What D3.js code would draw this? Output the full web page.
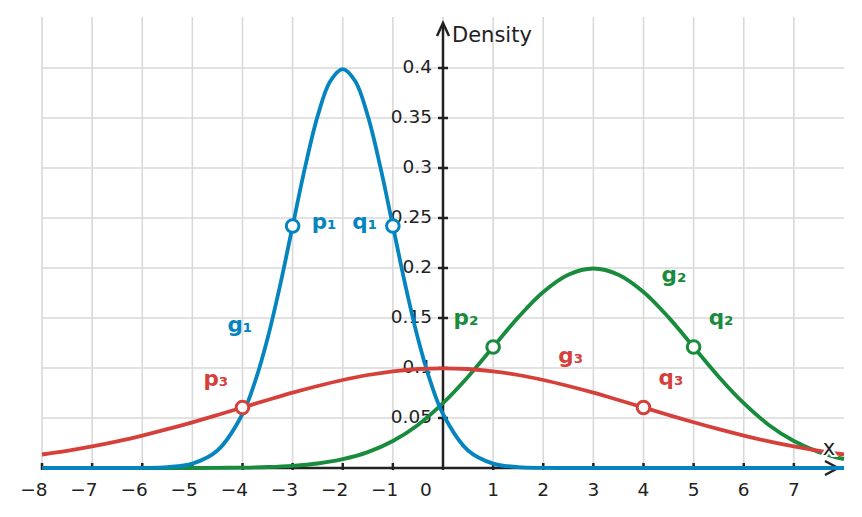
<!DOCTYPE html>
<html>
<head>
<meta charset="UTF-8">
<title>Normal densities</title>
<script src="https://cdn.jsdelivr.net/npm/d3@7"></script>
<style>
* { margin: 0; padding: 0; }
body { background: #fff; }
#chart { display: block; }
</style>
</head>
<body>
<svg id="chart"></svg>
<script>
// sample points along x
const xs = [-8, -7.5, -7, -6.5, -6, -5.5, -5, -4.5, -4, -3.5, -3, -2.5, -2, -1.5, -1, -0.5,
            0, 0.5, 1, 1.5, 2, 2.5, 3, 3.5, 4, 4.5, 5, 5.5, 6, 6.5, 7, 7.5, 8];
// g1 is narrow, so it gets a finer grid round its peak
const xs1 = [-8, -7.5, -7, -6.5, -6, -5.5, -5, -4.5, -4, -3.75, -3.5, -3.25, -3, -2.75, -2.5, -2.25,
             -2, -1.75, -1.5, -1.25, -1, -0.75, -0.5, -0.25, 0, 0.5, 1, 1.5, 2, 2.5, 3, 3.5, 4, 4.5,
             5, 5.5, 6, 6.5, 7, 7.5, 8];

// density values of each curve
const g1 = [0, 0, 0, 0, 0.0001, 0.0009, 0.0044, 0.0175, 0.0540, 0.0863, 0.1295, 0.1826, 0.2420,
            0.3011, 0.3521, 0.3867, 0.3989, 0.3867, 0.3521, 0.3011, 0.2420, 0.1826, 0.1295, 0.0863,
            0.0540, 0.0175, 0.0044, 0.0009, 0.0001, 0, 0, 0, 0, 0, 0, 0, 0, 0, 0, 0, 0];
const g2 = [0, 0, 0, 0, 0, 0, 0, 0.0002, 0.0004, 0.0010, 0.0022, 0.0045, 0.0088, 0.0159, 0.0270, 0.0431,
            0.0648, 0.0913, 0.1210, 0.1506, 0.1760, 0.1933, 0.1995, 0.1933, 0.1760, 0.1506, 0.1210,
            0.0913, 0.0648, 0.0431, 0.0270, 0.0159, 0.0088];
const g3 = [0.0135, 0.0172, 0.0216, 0.0266, 0.0324, 0.0388, 0.0457, 0.0530, 0.0605, 0.0680, 0.0753,
            0.0820, 0.0880, 0.0930, 0.0967, 0.0990, 0.0997, 0.0990, 0.0967, 0.0930, 0.0880, 0.0820,
            0.0753, 0.0680, 0.0605, 0.0530, 0.0457, 0.0388, 0.0324, 0.0266, 0.0216, 0.0172, 0.0135];

// marked points (inflection points)
const pointNames = ["p1", "q1", "p2", "q2", "p3", "q3"];
const pointX = [-3, -1, 1, 5, -4, 4];
const pointY = [0.2420, 0.2420, 0.1210, 0.1210, 0.0605, 0.0605];
const pointCurve = [0, 0, 1, 1, 2, 2];

// ticks
const xTicks = [-8, -7, -6, -5, -4, -3, -2, -1, 0, 1, 2, 3, 4, 5, 6, 7];
const yTicks = [0.05, 0.1, 0.15, 0.2, 0.25, 0.3, 0.35, 0.4];
const xTickLabels = ["−8", "−7", "−6", "−5", "−4", "−3", "−2", "−1", "0", "1", "2", "3", "4", "5", "6", "7"];
const yTickLabels = ["0.05", "0.1", "0.15", "0.2", "0.25", "0.3", "0.35", "0.4"];

const colors = ["#0585bf", "#188b3c", "#d5403a"];

// text annotations: text, curve index, anchor in data units
const notes = [
  { t: "p₁", c: 0, x: -2.62, y: 0.239 },
  { t: "q₁", c: 0, x: -1.81, y: 0.239 },
  { t: "g₁", c: 0, x: -4.30, y: 0.136 },
  { t: "p₂", c: 1, x: 0.21, y: 0.143 },
  { t: "g₂", c: 1, x: 4.36, y: 0.186 },
  { t: "q₂", c: 1, x: 5.30, y: 0.143 },
  { t: "p₃", c: 2, x: -4.78, y: 0.082 },
  { t: "g₃", c: 2, x: 2.30, y: 0.105 },
  { t: "q₃", c: 2, x: 4.30, y: 0.083 }
];

const W = 862, H = 517;
const svg = d3.select("#chart").attr("width", W).attr("height", H);

const x = d3.scaleLinear().domain([-8, 8]).range([42, 844]);
const y = d3.scaleLinear().domain([0, 0.4]).range([468, 68]);
const font = "DejaVu Sans, sans-serif";
const ink = "#222";

// grid
const grid = svg.append("g").attr("stroke", "#d9d9d9").attr("stroke-width", 1.6);
grid.selectAll(".vg").data(xTicks).enter().append("line")
  .attr("x1", d => x(d)).attr("x2", d => x(d))
  .attr("y1", y(0)).attr("y2", 17);
grid.selectAll(".hg").data(yTicks).enter().append("line")
  .attr("x1", x(-8)).attr("x2", x(8))
  .attr("y1", d => y(d)).attr("y2", d => y(d));

// tick labels
svg.append("g").selectAll("text").data(yTicks).enter().append("text")
  .attr("x", x(0) - 11).attr("y", d => y(d) + 5)
  .attr("text-anchor", "end")
  .style("font-family", font).style("font-size", "18.5px").style("fill", ink)
  .text((d, i) => yTickLabels[i]);

svg.append("g").selectAll("text").data(xTicks).enter().append("text")
  .attr("x", d => d < 0 ? x(d) + 5.5 : (d === 0 ? x(d) - 23 : x(d)))
  .attr("y", 496)
  .attr("text-anchor", d => d < 0 ? "end" : (d === 0 ? "start" : "middle"))
  .style("font-family", font).style("font-size", "18.5px").style("fill", ink)
  .text((d, i) => xTickLabels[i]);

// axes
const axes = svg.append("g").attr("stroke", ink).attr("stroke-width", 2.5).attr("fill", "none");
axes.append("line").attr("x1", x(-8)).attr("x2", 837).attr("y1", y(0)).attr("y2", y(0));
axes.append("line").attr("x1", x(0)).attr("x2", x(0)).attr("y1", y(0) + 2).attr("y2", 24);
axes.append("path").attr("d", `M${825},${y(0) - 7}L${838},${y(0)}L${825},${y(0) + 7}`);
axes.append("path").attr("d", `M${x(0) - 6},${36}L${x(0)},${23}L${x(0) + 6},${36}`);
axes.selectAll(".xt").data(xTicks.filter(d => d !== 0)).enter().append("line")
  .attr("x1", d => x(d)).attr("x2", d => x(d))
  .attr("y1", y(0) - 5).attr("y2", y(0) + 2);
axes.selectAll(".yt").data(yTicks).enter().append("line")
  .attr("x1", x(0) - 5).attr("x2", x(0) + 5)
  .attr("y1", d => y(d)).attr("y2", d => y(d));

svg.append("text").attr("x", 452).attr("y", 42)
  .style("font-family", font).style("font-size", "21px").style("fill", ink)
  .text("Density");

// curves
const line = d3.line().y(d => y(d)).curve(d3.curveCatmullRom.alpha(0.5));
const curves = [
  { vals: g2, xv: xs, c: 1 },
  { vals: g1, xv: xs1, c: 0 },
  { vals: g3, xv: xs, c: 2 }
];
curves.forEach(cv => {
  svg.append("path").datum(cv.vals)
    .attr("d", line.x((d, i) => x(cv.xv[i])))
    .attr("fill", "none")
    .attr("stroke", colors[cv.c])
    .attr("stroke-width", 3.8)
    .attr("stroke-linejoin", "round");
});

svg.append("text").attr("x", 829).attr("y", 455)
  .attr("text-anchor", "middle")
  .style("font-family", font).style("font-size", "21px").style("fill", ink)
  .style("stroke", "#fff").style("stroke-width", 4).style("paint-order", "stroke")
  .text("x");

// marked points
svg.append("g").selectAll("circle").data(pointNames).enter().append("circle")
  .attr("cx", (d, i) => x(pointX[i]))
  .attr("cy", (d, i) => y(pointY[i]))
  .attr("r", 6.3)
  .attr("fill", "#fff")
  .attr("stroke", (d, i) => colors[pointCurve[i]])
  .attr("stroke-width", 3);

// labels
svg.append("g").selectAll("text").data(notes).enter().append("text")
  .attr("x", d => x(d.x)).attr("y", d => y(d.y))
  .style("font-family", font).style("font-size", "21.5px").style("font-weight", "bold")
  .style("fill", d => colors[d.c])
  .text(d => d.t);
</script>
</body>
</html>
